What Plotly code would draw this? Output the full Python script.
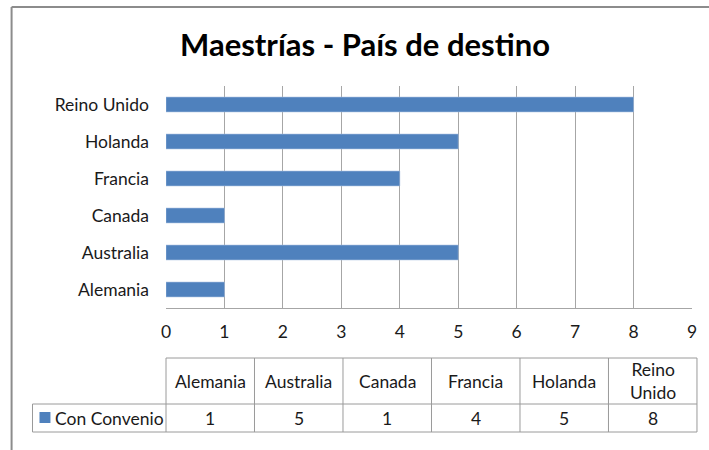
import plotly.graph_objects as go

# ---- data ----
categories = ["Alemania", "Australia", "Canada", "Francia", "Holanda", "Reino Unido"]
table_headers = ["Alemania", "Australia", "Canada", "Francia", "Holanda", "Reino<br>Unido"]
series_name = "Con Convenio"
values = [1, 5, 1, 4, 5, 8]
x_ticks = [0, 1, 2, 3, 4, 5, 6, 7, 8, 9]
title_text = "Maestrías - País de destino"

W, H = 709, 450
L, R, T, B = 166, 15, 86, 142
PW = W - L - R
PH = H - T - B

def px(x):
    return (x - L) / PW

def py(y):
    return (H - B - y) / PH

FONT = "Lato, Calibri, Carlito, sans-serif"
FS = 17.5
TXT = "#1a1a1a"
BAR = "#4F81BD"
GRID = "#a6a6a6"
TBL = "#9a9a9a"

fig = go.Figure()
fig.add_trace(go.Bar(
    y=categories, x=values, orientation="h", name=series_name,
    marker=dict(color=BAR, line=dict(color="#9db9dc", width=0.6)),
    showlegend=False, hoverinfo="x+y",
))

shapes = []
annotations = []

# outer chart frame
shapes.append(dict(type="line", xref="paper", yref="paper", x0=px(11), x1=px(712), y0=py(7), y1=py(7),
                   line=dict(color="#8c8c8c", width=2)))
shapes.append(dict(type="line", xref="paper", yref="paper", x0=px(11), x1=px(11), y0=py(7), y1=py(455),
                   line=dict(color="#8c8c8c", width=2)))

# data table
tl, tr = px(166), px(699)
legl = px(32)
ytop, ymid, ybot = py(358), py(404), py(432)
n = len(categories)
cw = (tr - tl) / n
line = dict(color=TBL, width=1)
shapes.append(dict(type="line", xref="paper", yref="paper", x0=tl, x1=tr, y0=ytop, y1=ytop, line=line))
shapes.append(dict(type="line", xref="paper", yref="paper", x0=legl, x1=tr, y0=ymid, y1=ymid, line=line))
shapes.append(dict(type="line", xref="paper", yref="paper", x0=legl, x1=tr, y0=ybot, y1=ybot, line=line))
shapes.append(dict(type="line", xref="paper", yref="paper", x0=legl, x1=legl, y0=ymid, y1=ybot, line=line))
for i in range(n + 1):
    xx = tl + i * cw
    shapes.append(dict(type="line", xref="paper", yref="paper", x0=xx, x1=xx, y0=ytop, y1=ybot, line=line))
for i, (h, v) in enumerate(zip(table_headers, values)):
    cx = tl + (i + 0.5) * cw
    annotations.append(dict(xref="paper", yref="paper", x=cx, y=(ytop + ymid) / 2, text=h,
                            showarrow=False, xanchor="center", yanchor="middle",
                            font=dict(family=FONT, size=FS, color=TXT)))
    annotations.append(dict(xref="paper", yref="paper", x=cx, y=(ymid + ybot) / 2, text=str(v),
                            showarrow=False, xanchor="center", yanchor="middle",
                            font=dict(family=FONT, size=FS, color=TXT)))
# legend key in table
shapes.append(dict(type="rect", xref="paper", yref="paper", x0=px(39), x1=px(50), y0=py(412), y1=py(423),
                   fillcolor=BAR, line=dict(width=0)))
annotations.append(dict(xref="paper", yref="paper", x=px(53), y=(ymid + ybot) / 2, text=series_name,
                        showarrow=False, xanchor="left", yanchor="middle",
                        font=dict(family=FONT, size=FS, color=TXT)))

fig.update_layout(
    width=W, height=H,
    margin=dict(l=L, r=R, t=T, b=B),
    paper_bgcolor="white", plot_bgcolor="white",
    title=dict(text="<b>" + title_text + "</b>", x=365 / W, xanchor="center",
               xref="container", yref="container", y=1 - 45 / H, yanchor="middle",
               font=dict(family=FONT, size=31, color="#000")),
    bargap=0.6,
    shapes=shapes, annotations=annotations,
    xaxis=dict(range=[0, 9], tickvals=x_ticks, showgrid=True, gridcolor=GRID, gridwidth=1,
               zeroline=False, showline=True, linecolor=GRID, linewidth=1,
               ticks="", ticklabelstandoff=8,
               tickfont=dict(family=FONT, size=FS, color=TXT), fixedrange=True),
    yaxis=dict(categoryorder="array", categoryarray=categories, showgrid=False, zeroline=False,
               showline=False, ticks="", ticklabelstandoff=16,
               tickfont=dict(family=FONT, size=FS, color=TXT), fixedrange=True),
)
fig.write_html("out.html", config={"displayModeBar": False},
               post_script="document.body.style.margin='0';document.body.style.overflow='hidden';")
